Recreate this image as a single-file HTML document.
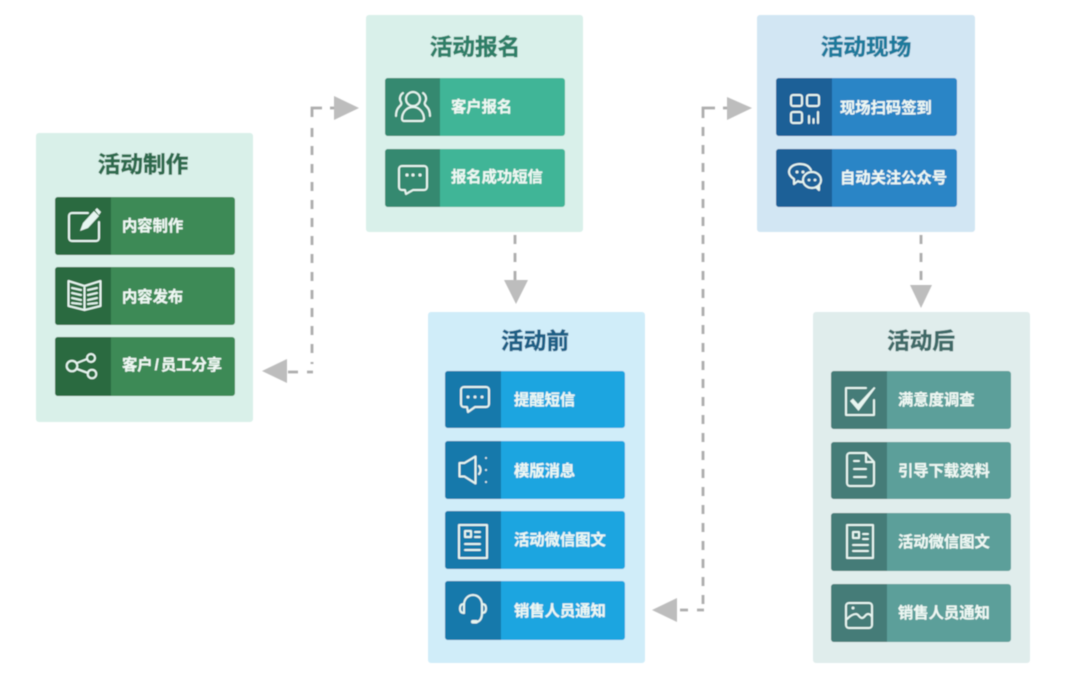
<!DOCTYPE html>
<html lang="zh">
<head>
<meta charset="utf-8">
<title>活动流程</title>
<style>
html,body{margin:0;padding:0;background:#fff;width:1080px;height:694px;overflow:hidden}
svg{display:block}
text{font-family:"Liberation Sans","Noto Sans CJK SC",sans-serif;font-weight:700}
.t{font-size:22.7px;text-anchor:middle;stroke-width:.5px}
.l{font-size:15.3px;fill:#eef7f3;stroke:#eef7f3;stroke-width:.25px}
.i{fill:none;stroke:#e6f5f0;stroke-width:2;stroke-linecap:round;stroke-linejoin:round}
.d{fill:none;stroke:#adadad;stroke-width:2.8}
.v{stroke-dasharray:9 9}
.a{fill:#bdbdbd}
.w{fill:#e6f5f0}
</style>
</head>
<body>
<svg width="1080" height="694" viewBox="0 0 1080 694" xmlns="http://www.w3.org/2000/svg">
<defs>
<filter id="b" x="-5%" y="-5%" width="110%" height="110%"><feGaussianBlur stdDeviation="0.4"/></filter>
</defs>
<g filter="url(#b)">
<!-- panels -->
<rect x="36" y="133" width="217" height="289" rx="3" fill="#d9f0e9"/>
<rect x="366" y="15" width="217" height="217" rx="3" fill="#d9f0ea"/>
<rect x="757" y="15" width="218" height="217" rx="3" fill="#d2e6f3"/>
<rect x="428" y="312" width="217" height="351" rx="3" fill="#d0edf9"/>
<rect x="813" y="312" width="217" height="351" rx="3" fill="#e0edec"/>

<!-- titles -->
<text class="t" x="143" y="172.500" fill="#2f6b4e" stroke="#2f6b4e">活动制作</text>
<text class="t" x="475" y="55" fill="#2f7f68" stroke="#2f7f68">活动报名</text>
<text class="t" x="866" y="55" fill="#1f7a9c" stroke="#1f7a9c">活动现场</text>
<text class="t" x="535" y="349" fill="#1f5f85" stroke="#1f5f85">活动前</text>
<text class="t" x="921" y="349" fill="#3f6b68" stroke="#3f6b68">活动后</text>

<!-- rows panel 1 -->
<g>
<rect x="55" y="197" width="180" height="58" rx="3" fill="#3d8a57"/><path d="M58 197h53v58h-53a3 3 0 0 1-3-3v-52a3 3 0 0 1 3-3z" fill="#2c6a41"/>
<rect x="55" y="267" width="180" height="58" rx="3" fill="#3d8a57"/><path d="M58 267h53v58h-53a3 3 0 0 1-3-3v-52a3 3 0 0 1 3-3z" fill="#2c6a41"/>
<rect x="55" y="337" width="180" height="59" rx="3" fill="#3d8a57"/><path d="M58 337h53v59h-53a3 3 0 0 1-3-3v-53a3 3 0 0 1 3-3z" fill="#2c6a41"/>
<text class="l" x="122" y="231">内容制作</text>
<text class="l" x="122" y="302">内容发布</text>
<text class="l" x="122" y="370">客户<tspan dx="2">/</tspan><tspan dx="2">员工分享</tspan></text>
<!-- edit icon -->
<path class="i" d="M88 213h-16a3 3 0 0 0-3 3v22a3 3 0 0 0 3 3h24a3 3 0 0 0 3-3v-16" stroke-width="2.6"/>
<path class="w" d="M80 231l3-8 11-12 5 5-11 12zM95 210l2-2 4 4-2 3z"/>
<!-- book icon -->
<path class="i" d="M84.500 286l-16-5v25l16 4 16-4v-25zM84.500 286v24M72 288l9 2M72 293l9 2M72 298l9 2M72 303l9 1M88 290l9-2M88 295l9-2M88 300l9-2M88 304l9-1" stroke-width="1.7"/>
<!-- share icon -->
<circle class="i" cx="72" cy="366" r="5.300"/><circle class="i" cx="91" cy="358" r="4"/><circle class="i" cx="92" cy="374" r="4.300"/>
<path class="i" d="M77 363l10-4M77 369l11 4"/>
</g>

<!-- rows panel 2 -->
<g>
<rect x="385" y="78" width="180" height="58" rx="3" fill="#41b597"/><path d="M388 78h52v58h-52a3 3 0 0 1-3-3v-52a3 3 0 0 1 3-3z" fill="#35896f"/>
<rect x="385" y="149" width="180" height="58" rx="3" fill="#41b597"/><path d="M388 149h52v58h-52a3 3 0 0 1-3-3v-52a3 3 0 0 1 3-3z" fill="#35896f"/>
<text class="l" x="451" y="112">客户报名</text>
<text class="l" x="451" y="182">报名成功短信</text>
<!-- users -->
<circle class="i" cx="413" cy="99" r="7" stroke-width="1.8"/>
<path class="i" d="M402 119c0-7 5-12 11-12s11 5 11 12c0 1-1 2-2 2h-18c-1 0-2-1-2-2zM403 93c-3 2-4 6-2 9 1 2 0 3-2 5-2 2-3 6-3 9M423 93c3 2 4 6 2 9-1 2 0 3 2 5 2 2 3 6 3 9" stroke-width="1.8"/>
<!-- chat -->
<path class="i" d="M402 166h22a3 3 0 0 1 3 3v18a3 3 0 0 1-3 3h-11l-7 4-1-4h-3a3 3 0 0 1-3-3v-18a3 3 0 0 1 3-3z" stroke-width="1.8"/>
<circle cx="407" cy="175" r="1.600" class="w"/><circle cx="413" cy="175" r="1.600" class="w"/><circle cx="420" cy="175" r="1.600" class="w"/>
</g>

<!-- rows panel 3 -->
<g>
<rect x="776" y="78" width="181" height="58" rx="3" fill="#2a85c6"/><path d="M779 78h53v58h-53a3 3 0 0 1-3-3v-52a3 3 0 0 1 3-3z" fill="#1e6097"/>
<rect x="776" y="149" width="181" height="58" rx="3" fill="#2a85c6"/><path d="M779 149h53v58h-53a3 3 0 0 1-3-3v-52a3 3 0 0 1 3-3z" fill="#1e6097"/>
<text class="l" x="840" y="113">现场扫码签到</text>
<text class="l" x="840" y="183">自动关注公众号</text>
<!-- qr -->
<g class="i" stroke-width="2">
<rect x="791" y="95" width="11" height="11" rx="2"/><rect x="807" y="95" width="12" height="11" rx="2"/><rect x="791" y="112" width="11" height="11" rx="2"/>
<path d="M809 116v7M813.500 119v4M818 112v11"/>
</g>
<!-- wechat -->
<g class="i" stroke-width="2">
<path d="M802 182c-2 0-3 0-4-1l-4 3 0-5c-3-2-5-4-5-7 0-5 5-8 11-8 5 0 9 2 11 6"/>
<ellipse cx="812" cy="180" rx="9" ry="8"/><path d="M816 187l3 3 0-5"/>
</g>
<circle cx="797" cy="172" r="1.500" class="w"/><circle cx="803" cy="172" r="1.500" class="w"/><circle cx="809" cy="180" r="1.400" class="w"/><circle cx="815" cy="180" r="1.400" class="w"/>
</g>

<!-- rows panel 4 -->
<g>
<rect x="445" y="371" width="180" height="57" rx="3" fill="#1ca5e0"/><path d="M448 371h53v57h-53a3 3 0 0 1-3-3v-51a3 3 0 0 1 3-3z" fill="#1679ab"/>
<rect x="445" y="441" width="180" height="58" rx="3" fill="#1ca5e0"/><path d="M448 441h53v58h-53a3 3 0 0 1-3-3v-52a3 3 0 0 1 3-3z" fill="#1679ab"/>
<rect x="445" y="511" width="180" height="58" rx="3" fill="#1ca5e0"/><path d="M448 511h53v58h-53a3 3 0 0 1-3-3v-52a3 3 0 0 1 3-3z" fill="#1679ab"/>
<rect x="445" y="581" width="180" height="59" rx="3" fill="#1ca5e0"/><path d="M448 581h53v59h-53a3 3 0 0 1-3-3v-53a3 3 0 0 1 3-3z" fill="#1679ab"/>
<text class="l" x="514" y="405">提醒短信</text>
<text class="l" x="514" y="476">模版消息</text>
<text class="l" x="514" y="545">活动微信图文</text>
<text class="l" x="514" y="616">销售人员通知</text>
<!-- chat -->
<path class="i" d="M464 387h22a3 3 0 0 1 3 3v14a3 3 0 0 1-3 3h-11l-7 5-1-5h-3a3 3 0 0 1-3-3v-14a3 3 0 0 1 3-3z" stroke-width="1.8"/>
<circle cx="468" cy="397" r="1.500" class="w"/><circle cx="475" cy="397" r="1.500" class="w"/><circle cx="482" cy="397" r="1.500" class="w"/>
<!-- speaker -->
<path class="i" d="M459.500 463h5l11-6.500v27l-11-7h-5zM479 466c2 2 2 6 0 8" stroke-width="1.800"/>
<circle cx="486" cy="458" r="1" class="w"/><circle cx="486" cy="470" r="1" class="w"/><circle cx="486" cy="482" r="1" class="w"/>
<!-- article -->
<g class="i" stroke-width="1.800">
<rect x="459" y="525" width="28" height="33"/><rect x="465" y="531" width="6" height="6"/><path d="M475 532h5M475 537h5M465 544h15M465 550h15"/>
</g>
<!-- headset -->
<g class="i" stroke-width="1.800">
<path d="M464 605c0-6 4-10 9-10s9 4 9 10v8c0 5-2 8-5 9"/>
<path d="M464 604c-3 0-4 2-4 4.500s1 4.500 4 4.500zM482 604c3 0 4 2 4 4.500s-1 4.500-4 4.500"/>
<path d="M464 605v8"/>
</g>
<rect x="471" y="620" width="7" height="3.500" rx="1.700" class="w"/>
</g>

<!-- rows panel 5 -->
<g>
<rect x="831" y="371" width="180" height="58" rx="3" fill="#5c9f9a"/><path d="M834 371h53v58h-53a3 3 0 0 1-3-3v-52a3 3 0 0 1 3-3z" fill="#457b78"/>
<rect x="831" y="442" width="180" height="57" rx="3" fill="#5c9f9a"/><path d="M834 442h53v57h-53a3 3 0 0 1-3-3v-51a3 3 0 0 1 3-3z" fill="#457b78"/>
<rect x="831" y="513" width="180" height="58" rx="3" fill="#5c9f9a"/><path d="M834 513h53v58h-53a3 3 0 0 1-3-3v-52a3 3 0 0 1 3-3z" fill="#457b78"/>
<rect x="831" y="584" width="180" height="58" rx="3" fill="#5c9f9a"/><path d="M834 584h53v58h-53a3 3 0 0 1-3-3v-52a3 3 0 0 1 3-3z" fill="#457b78"/>
<text class="l" x="898" y="405">满意度调查</text>
<text class="l" x="898" y="476">引导下载资料</text>
<text class="l" x="898" y="547">活动微信图文</text>
<text class="l" x="898" y="618">销售人员通知</text>
<!-- check -->
<path class="i" d="M866 388h-20v27h28v-15" stroke-width="1.900"/>
<path class="w" d="M850 401l3-2.500 5 5.500 16-17 1.500 1-17 23z"/>
<!-- doc -->
<path class="i" d="M850 453h16l8 9v21a3 3 0 0 1-3 3h-21a3 3 0 0 1-3-3v-27a3 3 0 0 1 3-3zM866 453v9h8M854 461h5M854 469h12M854 477h12" stroke-width="1.800"/>
<!-- article -->
<g class="i" stroke-width="1.800">
<rect x="847" y="525" width="26" height="33"/><rect x="853" y="532" width="6" height="6"/><path d="M863 534h5M863 539h5M853 545h15M853 551h15"/>
</g>
<!-- image -->
<g class="i" stroke-width="1.800">
<rect x="846" y="603" width="26" height="25" rx="3"/><path d="M847 619c3-3 6-5 9-5s3 4 6 4 3-4 6-4 3 2 4 3"/>
</g>
<circle cx="853" cy="608" r="1.500" class="w"/>
</g>

<!-- connectors -->
<path class="d" d="M288 372H298M307 372H313M312 117V108H322M330 108H335"/>
<path class="d v" d="M312 128V364"/>
<polygon class="a" points="262,371 287,359 287,383"/>
<polygon class="a" points="334,96 359,108 334,120"/>
<path class="d v" d="M515 235V282"/>
<polygon class="a" points="504,280 528,280 516,304"/>
<path class="d v" d="M921 235V286"/>
<polygon class="a" points="910,285 932,285 921,308"/>
<path class="d" d="M680 610H688M697 610H704M703 118V108H715M723 108H728"/>
<path class="d v" d="M703 127V604"/>
<polygon class="a" points="652,610 677,598 677,622"/>
<polygon class="a" points="727,97 752,108 727,120"/>
</g>
</svg>
</body>
</html>
